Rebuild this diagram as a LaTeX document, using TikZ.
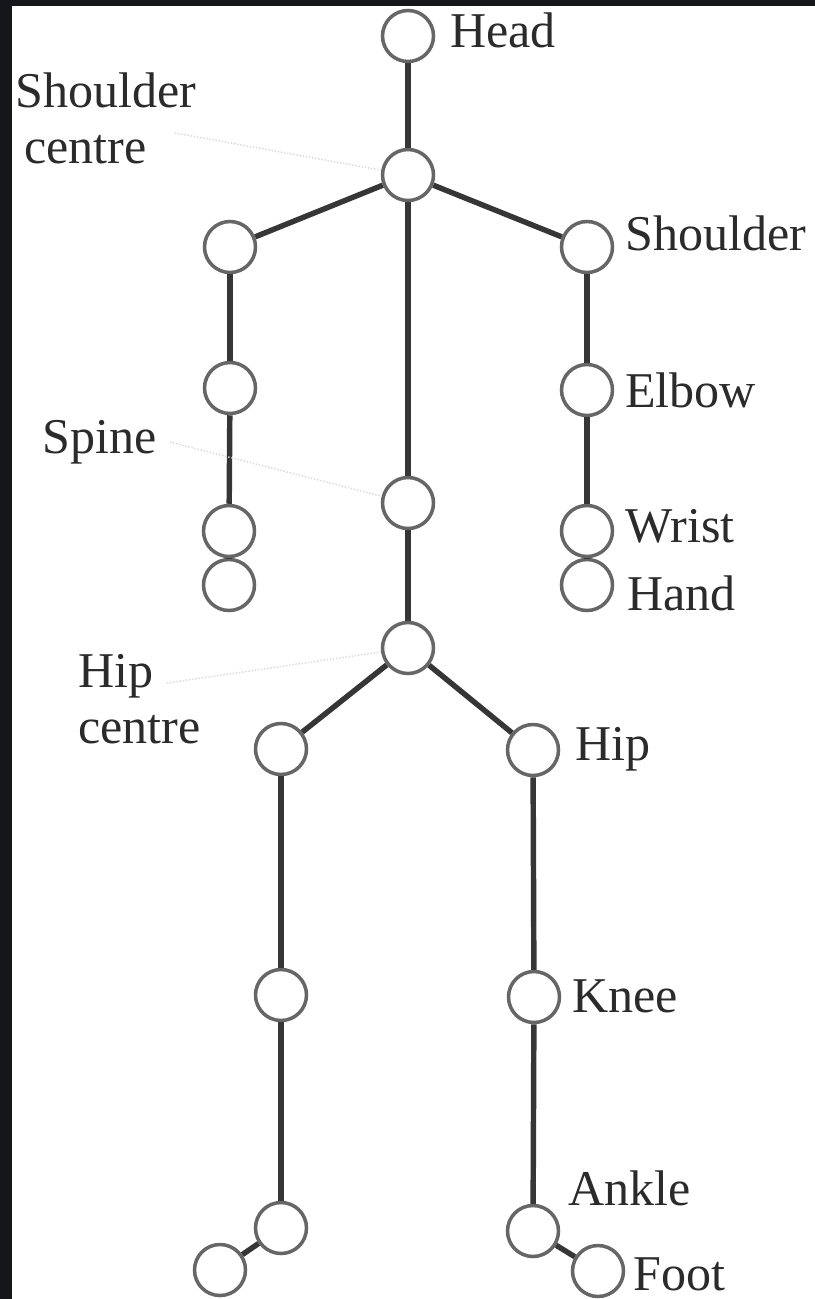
\documentclass[tikz,border=0pt]{standalone}
\usepackage{fontspec}
\setmainfont{Liberation Serif}
\definecolor{framedark}{HTML}{14161A}
\definecolor{bonegray}{HTML}{363636}
\definecolor{jointgray}{HTML}{666666}
\definecolor{textgray}{HTML}{2B2B2B}
\tikzset{
  line cap=round,
  line join=round,
  joint/.style={circle, draw=jointgray, line width=2pt, fill=white, minimum size=1.02cm, inner sep=0pt},
  bone/.style={draw=bonegray, line width=3.1pt, line cap=butt},
  lbl/.style={inner sep=0pt, text=textgray, font=\fontsize{28.5}{32}\selectfont},
  leader/.style={draw=black!15, line width=0.8pt, densely dotted}
}
\begin{document}
\begin{tikzpicture}[x=0.02cm, y=-0.02cm]
	% page and dark frame strips
	\fill[white] (0,0) rectangle (815,1299);
	\fill[framedark] (0,0) rectangle (12,1299);
	\fill[framedark] (0,0) rectangle (815,6);
	\useasboundingbox (0,0) rectangle (815,1299);

	% joints: trunk
	\node[joint] (head) at (408,36) {};
	\node[joint] (shc) at (408,175) {};
	\node[joint] (spine) at (408,503) {};
	\node[joint] (hipc) at (408,648) {};

	% joints: arms
	\node[joint] (shl) at (230,247) {};
	\node[joint] (ell) at (230,388) {};
	\node[joint] (wrl) at (229,531) {};
	\node[joint] (hal) at (229,585) {};
	\node[joint] (shr) at (587,247) {};
	\node[joint] (elr) at (587,390) {};
	\node[joint] (wrr) at (587,531) {};
	\node[joint] (har) at (587,585) {};

	% joints: legs
	\node[joint] (hipl) at (281,749) {};
	\node[joint] (knl) at (281,995) {};
	\node[joint] (anl) at (281,1228) {};
	\node[joint] (ftl) at (220,1270) {};
	\node[joint] (hipr) at (533,750) {};
	\node[joint] (knr) at (534,997) {};
	\node[joint] (anr) at (533,1231) {};
	\node[joint] (ftr) at (598,1271) {};

	% bones
	\foreach \a/\b in {head/shc, shc/shl, shc/shr, shc/spine, spine/hipc,
	                   shl/ell, ell/wrl, wrl/hal, shr/elr, elr/wrr, wrr/har,
	                   hipc/hipl, hipc/hipr, hipl/knl, knl/anl, anl/ftl,
	                   hipr/knr, knr/anr, anr/ftr}
		\draw[bone] (\a) -- (\b);

	% labels
	\node[lbl, anchor=base west] (lhead) at (450,47) {Head};
	\node[lbl, anchor=north west, align=left] (lshc) at (15,72) {Shoulder\\\hspace*{0.18em}centre};
	\node[lbl, anchor=base west] (lsh) at (625,250) {Shoulder};
	\node[lbl, anchor=base west] (lelb) at (625,407) {Elbow};
	\node[lbl, anchor=base west] (lspine) at (42,453) {Spine};
	\node[lbl, anchor=base west] (lwri) at (625,542) {Wrist};
	\node[lbl, anchor=base west] (lhand) at (627,610) {Hand};
	\node[lbl, anchor=north west, align=left] (lhipc) at (78,654) {Hip\\centre};
	\node[lbl, anchor=base west] (lhip) at (575,760) {Hip};
	\node[lbl, anchor=base west] (lknee) at (572,1012) {Knee};
	\node[lbl, anchor=base west] (lankle) at (568,1205) {Ankle};
	\node[lbl, anchor=base west] (lfoot) at (633,1290) {Foot};

	% faint leader lines
	\coordinate (shcl) at (175,133);
	\coordinate (spinel) at (170,442);
	\coordinate (hipcl) at (167,683);
	\draw[leader] (shcl) -- (shc);
	\draw[leader] (spinel) -- (spine);
	\draw[leader] (hipcl) -- (hipc);
\end{tikzpicture}
\end{document}
